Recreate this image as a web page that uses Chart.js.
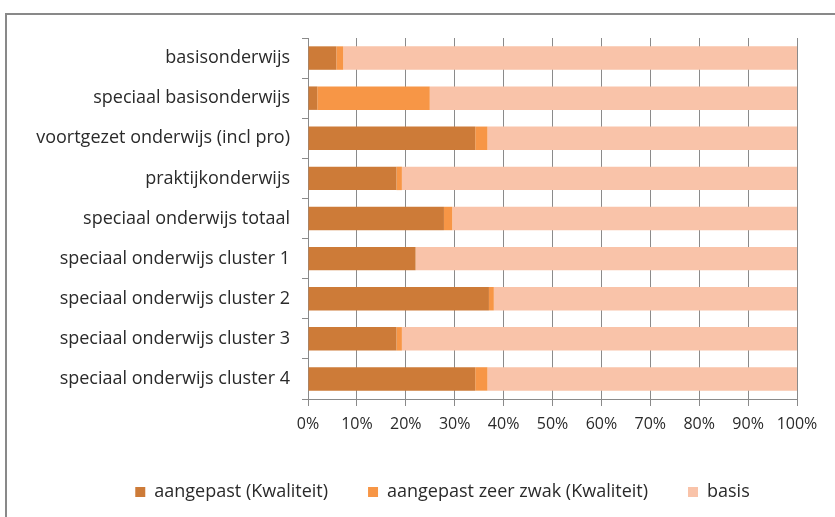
<!DOCTYPE html>
<html>
<head>
<meta charset="utf-8">
<script src="https://cdn.jsdelivr.net/npm/chart.js@4/dist/chart.umd.min.js"></script>
<style>
  html,body{margin:0;padding:0;background:#fff}
  #wrap{position:relative;width:835px;height:517px}
  #frame{position:absolute;left:5px;top:13px;width:840px;height:520px;border-left:2px solid #898989;border-top:2px solid #898989;pointer-events:none}
</style>
</head>
<body>
<div id="wrap">
  <canvas id="c" width="835" height="517"></canvas>
  <div id="frame"></div>
</div>
<script>
// categories top to bottom
const categories = [
  'basisonderwijs',
  'speciaal basisonderwijs',
  'voortgezet onderwijs (incl pro)',
  'praktijkonderwijs',
  'speciaal onderwijs totaal',
  'speciaal onderwijs cluster 1',
  'speciaal onderwijs cluster 2',
  'speciaal onderwijs cluster 3',
  'speciaal onderwijs cluster 4'
];
// percentages
const aangepast     = [5.8, 1.9, 34.2, 18.1, 27.8, 22.0, 37.0, 18.1, 34.2];
const aangepastZwak = [1.4, 23.0, 2.5, 1.1, 1.7, 0.0, 1.0, 1.1, 2.5];
const basis         = [92.8, 75.1, 63.3, 80.8, 70.5, 78.0, 62.0, 80.8, 63.3];
const seriesNames = ['aangepast (Kwaliteit)', 'aangepast zeer zwak (Kwaliteit)', 'basis'];
const seriesColors = ['#CD7B38', '#F79646', '#F9C3A9'];

const family = '"Open Sans", "Liberation Sans", sans-serif';
const labelFont = {family: family, size: 18};
const tickFont = {family: family, size: 16};

// nudge the legend so it sits where the original one is
const legendNudge = {
  id: 'legendNudge',
  afterLayout(chart) {
    const lg = chart.legend;
    lg.left += 44; lg.right += 44;
    lg.top -= 6; lg.bottom -= 6;
  }
};

new Chart(document.getElementById('c').getContext('2d'), {
  type: 'bar',
  data: {
    labels: categories,
    datasets: [aangepast, aangepastZwak, basis].map((d, i) => ({
      label: seriesNames[i], data: d, backgroundColor: seriesColors[i],
      borderWidth: 0, barPercentage: 0.585, categoryPercentage: 1
    }))
  },
  options: {
    indexAxis: 'y',
    responsive: false,
    animation: false,
    layout: {padding: {top: 38, right: 38, left: 0, bottom: 0}},
    scales: {
      x: {
        stacked: true, min: 0, max: 100,
        ticks: {stepSize: 10, callback: v => v + '%', color: '#2a2a2a', font: tickFont, padding: 9, maxRotation: 0},
        grid: {color: '#8a8a8a', tickLength: 7, lineWidth: 1},
        border: {color: '#8a8a8a'},
        afterFit: s => { s.height = 50; }
      },
      y: {
        stacked: true,
        ticks: {color: '#2a2a2a', font: labelFont, padding: 12},
        grid: {drawOnChartArea: false, tickLength: 6, color: '#8a8a8a', offset: true},
        border: {color: '#8a8a8a'},
        afterFit: s => { s.width = 308; }
      }
    },
    plugins: {
      legend: {
        position: 'bottom',
        labels: {boxWidth: 10, boxHeight: 10, color: '#2a2a2a', font: labelFont, padding: 40}
      },
      tooltip: {enabled: false}
    }
  },
  plugins: [legendNudge]
});
</script>
</body>
</html>
